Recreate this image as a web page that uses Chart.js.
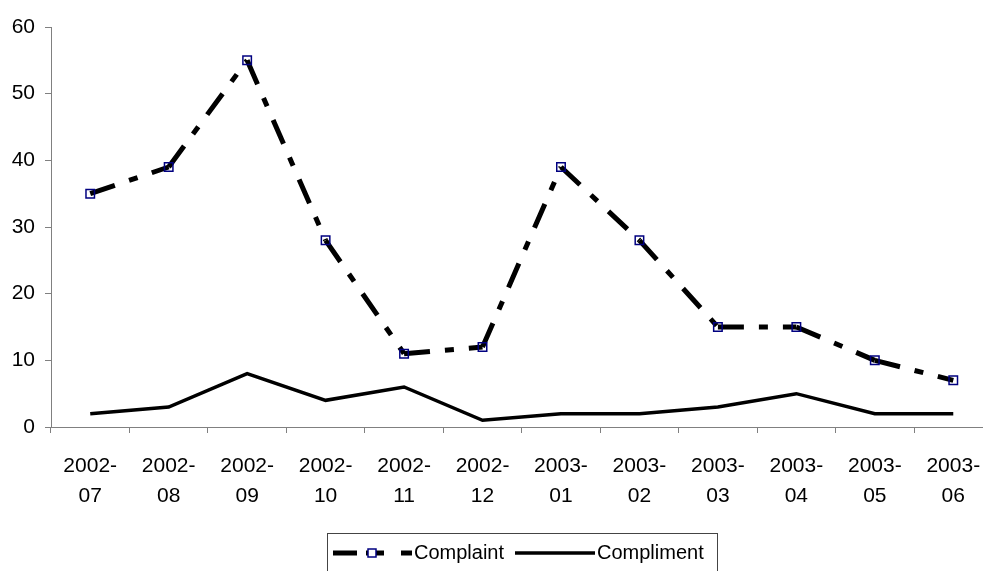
<!DOCTYPE html>
<html>
<head>
<meta charset="utf-8">
<script src="https://cdn.jsdelivr.net/npm/chart.js@4.4.1/dist/chart.umd.min.js"></script>
<style>
  html, body { margin: 0; padding: 0; background: #fff; overflow: hidden; }
  #wrap { width: 1000px; height: 571px; }
</style>
</head>
<body>
<div id="wrap"><canvas id="c" width="1000" height="571"></canvas></div>
<script>
// Monthly feedback counts, July 2002 – June 2003
const months = ['2002-07','2002-08','2002-09','2002-10','2002-11','2002-12',
                '2003-01','2003-02','2003-03','2003-04','2003-05','2003-06'];
const complaints = [35, 39, 55, 28, 11, 12, 39, 28, 15, 15, 10, 7];
const compliments = [2, 3, 8, 4, 6, 1, 2, 2, 3, 5, 2, 2];
const yTicks = [0, 10, 20, 30, 40, 50, 60];

const FONT = 'Liberation Sans, Arial, sans-serif';
const DASH = [26, 15, 9, 15];

// Split "2002-07" into two lines: "2002-" and "07"
const tickLabels = months.map(m => [m.slice(0, 5), m.slice(5)]);

// Boxed legend drawn under the axis
const boxedLegend = {
  id: 'boxedLegend',
  afterDraw(chart) {
    const ctx = chart.ctx;
    const ds = chart.data.datasets;
    const cy = 553;
    ctx.save();
    ctx.strokeStyle = '#444';
    ctx.lineWidth = 1;
    ctx.strokeRect(327.5, 533.5, 390, 60);

    // Complaint sample: dash-dot line with a square marker
    ctx.strokeStyle = ds[0].borderColor;
    ctx.lineWidth = ds[0].borderWidth;
    ctx.setLineDash([24, 9, 18, 17, 11, 100]);
    ctx.beginPath();
    ctx.moveTo(333, cy);
    ctx.lineTo(412, cy);
    ctx.stroke();
    ctx.setLineDash([]);
    ctx.lineWidth = ds[0].pointBorderWidth;
    ctx.strokeStyle = ds[0].pointBorderColor;
    ctx.fillStyle = '#fff';
    ctx.fillRect(368, cy - 4, 8, 8);
    ctx.strokeRect(368, cy - 4, 8, 8);

    // Compliment sample: solid line
    ctx.strokeStyle = ds[1].borderColor;
    ctx.lineWidth = ds[1].borderWidth;
    ctx.beginPath();
    ctx.moveTo(515, cy);
    ctx.lineTo(595, cy);
    ctx.stroke();

    ctx.fillStyle = '#000';
    ctx.font = '20px ' + FONT;
    ctx.textBaseline = 'middle';
    ctx.fillText(ds[0].label, 414, cy);
    ctx.fillText(ds[1].label, 597, cy);
    ctx.restore();
  }
};

new Chart(document.getElementById('c'), {
  type: 'line',
  data: {
    labels: tickLabels,
    datasets: [
      {
        label: 'Complaint',
        data: complaints,
        borderColor: '#000',
        borderWidth: 5,
        borderDash: DASH,
        borderCapStyle: 'butt',
        tension: 0,
        // each segment restarts its dash pattern at the data point
        segment: { borderDashOffset: c => (c.p0DataIndex % 2 ? 0.001 : 0) },
        pointStyle: 'rect',
        pointRadius: 6,
        pointHoverRadius: 6,
        pointBorderWidth: 1.5,
        pointBorderColor: '#000080',
        pointBackgroundColor: 'rgba(0,0,0,0)'
      },
      {
        label: 'Compliment',
        data: compliments,
        borderColor: '#000',
        borderWidth: 3.5,
        tension: 0,
        pointRadius: 0,
        pointHoverRadius: 0
      }
    ]
  },
  options: {
    responsive: false,
    animation: false,
    events: [],
    layout: { padding: { top: 27, right: 6, left: 0, bottom: 0 } },
    plugins: {
      legend: { display: false },
      tooltip: { enabled: false }
    },
    scales: {
      x: {
        offset: true,
        grid: {
          offset: true,
          drawOnChartArea: false,
          drawTicks: true,
          tickLength: 6,
          color: '#808080'
        },
        border: { color: '#808080', width: 1 },
        ticks: {
          autoSkip: false,
          maxRotation: 0,
          minRotation: 0,
          padding: 18,
          color: '#000',
          font: { family: FONT, size: 21, lineHeight: 1.43 }
        },
        afterFit(scale) { scale.height = 144; }
      },
      y: {
        min: yTicks[0],
        max: yTicks[yTicks.length - 1],
        afterBuildTicks(scale) { scale.ticks = yTicks.map(v => ({ value: v })); },
        grid: {
          drawOnChartArea: false,
          drawTicks: true,
          tickLength: 6,
          color: '#808080'
        },
        border: { color: '#808080', width: 1 },
        ticks: {
          padding: 10,
          color: '#000',
          font: { family: FONT, size: 21 }
        },
        afterFit(scale) { scale.width = 51; }
      }
    }
  },
  plugins: [boxedLegend]
});
</script>
</body>
</html>
